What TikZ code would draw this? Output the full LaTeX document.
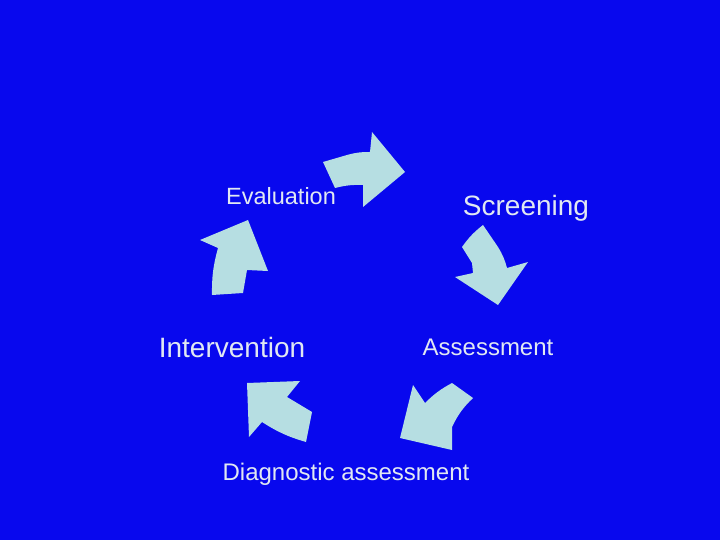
\documentclass[tikz,border=0pt]{standalone}
\usepackage{fontspec}
\setmainfont{Liberation Sans}
\definecolor{bg}{RGB}{8,8,238}
\definecolor{arr}{RGB}{182,222,226}
\definecolor{txt}{RGB}{225,232,242}
\begin{document}
\begin{tikzpicture}[x=1pt,y=-1pt,
  blk/.style={fill=arr,draw=none},
  lbl/.style={text=txt,inner sep=0pt}]
\fill[bg] (0,0) rectangle (720,540);
\useasboundingbox (0,0) rectangle (720,540);
\fill[blk] (323,162) -- (335,188) to[bend left=8] (363,185) -- (363,207) -- (405,172) -- (372,132) -- (370,152) to[bend right=8] (347,155) -- cycle;
\fill[blk] (483,225) to[bend right=8] (462,247) -- (472,263) -- (473,273) -- (455,277) -- (498,305) -- (528,262) -- (507,268) to[bend right=8] (498,247) -- cycle;
\fill[blk] (452,383) -- (473,398) to[bend right=10] (452,427) -- (452,450) -- (400,438) -- (413,385) -- (425,403) to[bend left=8] cycle;
\fill[blk] (247,383) -- (300,381) -- (287,397) -- (312,412) -- (306,442) to[bend left=8] (262,422) -- (249,437) -- cycle;
\fill[blk] (212,295) -- (243,293) -- (247,270) -- (268,271) -- (248,220) -- (200,240) -- (218,248) to[bend right=8] cycle;
\node[lbl,font=\fontsize{23.5}{26}\selectfont] (ev) at (281,196) {Evaluation};
\node[lbl,font=\fontsize{28}{30}\selectfont] (sc) at (526,208) {Screening};
\node[lbl,font=\fontsize{28}{30}\selectfont] (in) at (232,347) {Intervention};
\node[lbl,font=\fontsize{24}{26}\selectfont] (as) at (488,347) {Assessment};
\node[lbl,font=\fontsize{24}{26}\selectfont] (di) at (346,474) {Diagnostic assessment};
\end{tikzpicture}
\end{document}
